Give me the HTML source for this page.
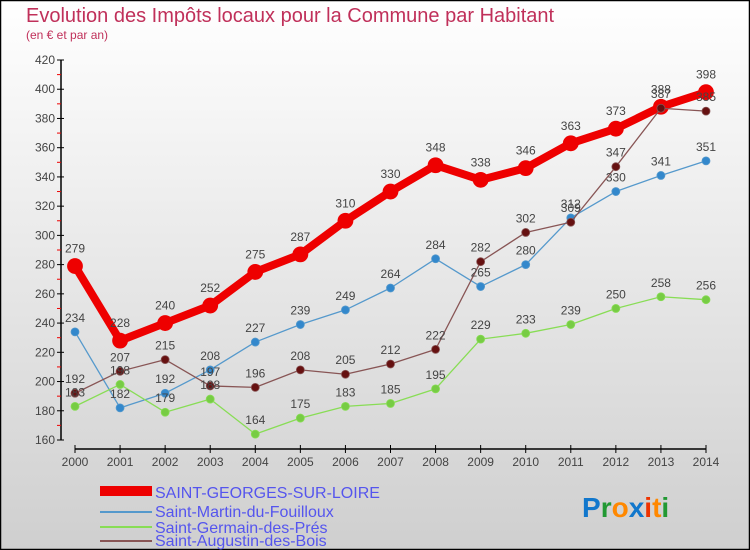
<!DOCTYPE html>
<html><head><meta charset="utf-8"><style>
html,body{margin:0;padding:0}
body{width:750px;height:550px;overflow:hidden;font-family:"Liberation Sans",sans-serif}
svg{display:block}
</style></head><body>
<svg id="chart" width="750" height="550" xmlns="http://www.w3.org/2000/svg">
<defs><linearGradient id="bg" x1="0" y1="0" x2="0" y2="1"><stop offset="0" stop-color="#ffffff"/><stop offset="1" stop-color="#cfcfcf"/></linearGradient></defs>
<rect x="0.5" y="0.5" width="749" height="549" fill="url(#bg)" stroke="#000" stroke-width="1.5"/>
<text x="26" y="22" font-size="20" fill="#c0305a">Evolution des Impôts locaux pour la Commune par Habitant</text>
<text x="26" y="39" font-size="12" fill="#c0305a">(en € et par an)</text>
<g id="axes"></g>
<g id="series"></g>
<g id="labels"></g>
<g id="legend">
<rect x="100" y="486" width="52" height="10" fill="#ee0000"/>
<text x="155" y="498" font-size="16" fill="#5555ee">SAINT-GEORGES-SUR-LOIRE</text>
<line x1="100" y1="512" x2="152" y2="512" stroke="#5599cc" stroke-width="2"/>
<text x="155" y="517" font-size="16" fill="#5555ee">Saint-Martin-du-Fouilloux</text>
<line x1="100" y1="527" x2="152" y2="527" stroke="#88dd55" stroke-width="2"/>
<text x="155" y="533" font-size="16" fill="#5555ee">Saint-Germain-des-Prés</text>
<line x1="100" y1="541" x2="152" y2="541" stroke="#885555" stroke-width="2"/>
<text x="155" y="546" font-size="16" fill="#5555ee">Saint-Augustin-des-Bois</text>
</g>
<text x="582" y="517" font-size="28" font-weight="bold"><tspan fill="#1177cc">P</tspan><tspan fill="#229933">r</tspan><tspan fill="#ff8800">o</tspan><tspan fill="#1177cc">x</tspan><tspan fill="#ee3300">i</tspan><tspan fill="#ff8800">t</tspan><tspan fill="#229933">i</tspan></text>
</svg>
<script>
const years = [2000,2001,2002,2003,2004,2005,2006,2007,2008,2009,2010,2011,2012,2013,2014];
const yTicks = [160,180,200,220,240,260,280,300,320,340,360,380,400,420];
const stGeorges = [279,228,240,252,275,287,310,330,348,338,346,363,373,388,398];
const stMartin = [234,182,192,208,227,239,249,264,284,265,280,312,330,341,351];
const stGermain = [183,198,179,188,164,175,183,185,195,229,233,239,250,258,256];
const stAugustin = [192,207,215,197,196,208,205,212,222,282,302,309,347,387,385];

const NS='http://www.w3.org/2000/svg';
const X0=75,X1=706,Y0=440,Y1=60,VMIN=160,VMAX=420;
function xs(i){return X0+(X1-X0)*i/(years.length-1);}
function ys(v){return Y0-(v-VMIN)*(Y0-Y1)/(VMAX-VMIN);}
function mk(tag,attrs,parent){const e=document.createElementNS(NS,tag);for(const k in attrs)e.setAttribute(k,attrs[k]);parent.appendChild(e);return e;}
const axes=document.getElementById('axes'),ser=document.getElementById('series'),lab=document.getElementById('labels');

let e=mk('line',{x1:61,y1:Y1,x2:61,y2:Y0,stroke:'#000','stroke-width':1.5},axes);


yTicks.forEach((t,i)=>{
  const y=ys(t);
  mk('line',{x1:57,y1:y,x2:64,y2:y,stroke:'#000'},axes);
  if(i<yTicks.length-1) mk('line',{x1:57,y1:ys(t+10),x2:61,y2:ys(t+10),stroke:'#ee0000'},axes);
  const tx=mk('text',{x:55,y:y+4,'font-size':12,fill:'#444','text-anchor':'end'},axes);
  tx.textContent=t;
  
  
});
e=mk('line',{x1:X0,y1:449,x2:X1,y2:449,stroke:'#000','stroke-width':1.5},axes);


years.forEach((yr,i)=>{
  const x=xs(i);
  mk('line',{x1:x,y1:445,x2:x,y2:453,stroke:'#000'},axes);
  const tx=mk('text',{x:x,y:466,'font-size':12,fill:'#444','text-anchor':'middle'},axes);
  tx.textContent=yr;
  
  
});

function drawSeries(data,name,color,dot,width,r){
  const g=mk('g',{},ser);
  
  
  const pts=data.map((v,i)=>xs(i)+','+ys(v)).join(' ');
  mk('polyline',{points:pts,fill:'none',stroke:color,'stroke-width':width,'stroke-linejoin':'round'},g);
  data.forEach((v,i)=>{
    const c=mk('circle',{cx:xs(i),cy:ys(v),r:r,fill:dot,stroke:color,'stroke-width':0.8},g);
    
    
    const t=mk('text',{x:xs(i),y:ys(v)-(r+6),'font-size':12,fill:'#444','text-anchor':'middle'},lab);
    t.textContent=v;
    
    
  });
}
drawSeries(stGeorges,'saint-georges','#ee0000','#ee0000',8,7.5);
drawSeries(stMartin,'saint-martin','#5599cc','#3388cc',1.3,4);
drawSeries(stGermain,'saint-germain','#88dd55','#77cc44',1.3,4);
drawSeries(stAugustin,'saint-augustin','#885555','#661111',1.3,4);
</script>
</body></html>
